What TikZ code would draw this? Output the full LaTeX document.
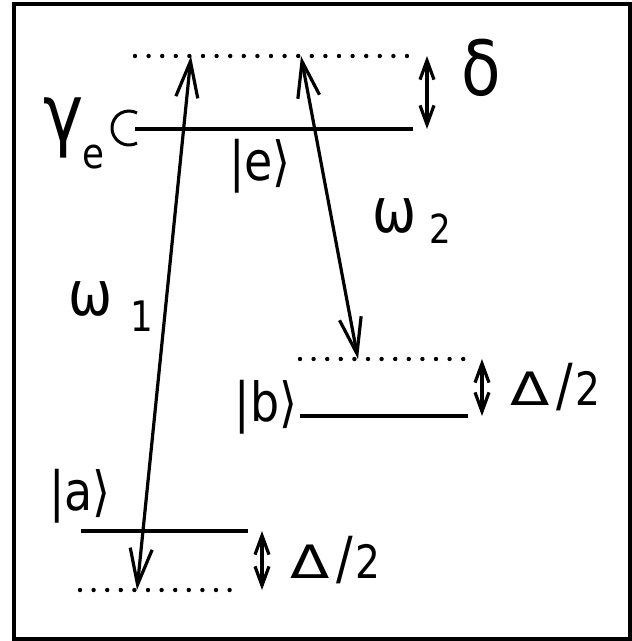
\documentclass[tikz,border=0pt]{standalone}
\usepackage{fontspec}
\setmainfont{DejaVu Sans}[FakeStretch=0.85]
\newfontfamily\widefont{DejaVu Sans}[FakeStretch=1.25]
\usetikzlibrary{arrows.meta}
\newcommand{\fsz}[1]{\fontsize{#1}{#1}\selectfont}
\newcommand{\halfgap}{{\widefont\fsz{46}Δ}\hspace{7pt}{\fsz{58}/}\hspace{2pt}{\fsz{46}2}}
\begin{document}
\begin{tikzpicture}[x=1pt,y=-1pt,
  level/.style={line width=3.2pt},
  dots/.style={line width=4.4pt, line cap=round, dash pattern=on 0pt off 13.6pt},
  bigarrow/.style={line width=3.2pt, {Straight Barb[length=36pt,width=22pt]}-{Straight Barb[length=36pt,width=22pt]}},
  gaparrow/.style={line width=3.2pt, {Straight Barb[length=19pt,width=14pt]}-{Straight Barb[length=19pt,width=14pt]}},
  lbl/.style={inner sep=0pt, anchor=base}]
\useasboundingbox (0,0) rectangle (632,641);
\draw[line width=3.4pt] (14,4) rectangle (630,639);
% level coordinates
\coordinate (vtopL) at (135,56);   \coordinate (vtopR) at (413,56);
\coordinate (eL) at (135,129);     \coordinate (eR) at (413,129);
\coordinate (vbL) at (300,359);    \coordinate (vbR) at (470,359);
\coordinate (bL) at (300,416);     \coordinate (bR) at (468,416);
\coordinate (aL) at (81,531);      \coordinate (aR) at (248,531);
\coordinate (vaL) at (80,590);     \coordinate (vaR) at (240,590);
% arrow ends
\coordinate (w1bot) at (137,590);  \coordinate (w1top) at (191,56);
\coordinate (w2top) at (301,56);   \coordinate (w2bot) at (358,359);
\coordinate (dTop) at (427,56);    \coordinate (dBot) at (427,129);
\coordinate (bTop) at (482,359);   \coordinate (bBot) at (482,416);
\coordinate (aTop) at (262,531);   \coordinate (aBot) at (262,590);
% levels
\draw[dots] (vtopL) -- (vtopR);
\draw[level] (eL) -- (eR);
\draw[dots] (vbL) -- (vbR);
\draw[level] (bL) -- (bR);
\draw[level] (aL) -- (aR);
\draw[dots] (vaL) -- (vaR);
% transitions
\draw[bigarrow] (w1bot) -- (w1top);
\draw[bigarrow] (w2top) -- (w2bot);
\draw[gaparrow] (dTop) -- (dBot);
\draw[gaparrow] (bTop) -- (bBot);
\draw[gaparrow] (aTop) -- (aBot);
% decay symbol
\draw[line width=3pt] (137,143) arc[start angle=62, end angle=298, radius=17];
% labels
\node[lbl] (delta) at (481,95) {\fsz{76}δ};
\node[lbl] (gam) at (64,141) {\fsz{80}γ};
\node[lbl] (gsub) at (93,168) {\fsz{42}e};
\node[lbl] (ket-e) at (260,180) {\fsz{54}|e⟩};
\node[lbl] (w2) at (395,232) {\fsz{62}ω};
\node[lbl] (w2sub) at (440,243) {\fsz{40}2};
\node[lbl] (w1) at (91,315) {\fsz{62}ω};
\node[lbl] (w1sub) at (142,331) {\fsz{42}1};
\node[lbl] (ket-b) at (266,421) {\fsz{54}|b⟩};
\node[lbl] (D1) at (555,405) {\halfgap};
\node[lbl] (ket-a) at (80,510) {\fsz{54}|a⟩};
\node[lbl] (D2) at (335,578) {\halfgap};
\end{tikzpicture}
\end{document}
